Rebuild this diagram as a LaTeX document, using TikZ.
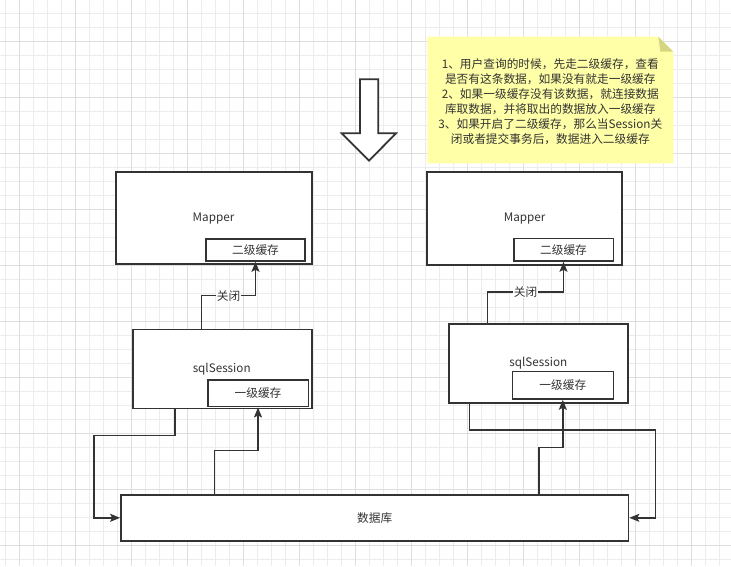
\documentclass[tikz,border=0pt]{standalone}
\usepackage{fontspec}
\setmainfont{Noto Sans CJK SC}
\usepackage{tikz}
\usetikzlibrary{arrows.meta, positioning, calc}
\definecolor{inkgray}{RGB}{51, 51, 51}
\definecolor{gridminor}{RGB}{236, 236, 236}
\definecolor{gridmajor}{RGB}{222, 222, 222}
\definecolor{noteyellow}{RGB}{255, 255, 168}
\definecolor{notefold}{RGB}{214, 214, 130}

\begin{document}
\begin{tikzpicture}[x=1pt, y=-1pt,
  every node/.style={font=\fontsize{11.7}{15}\selectfont, text=inkgray},
  box/.style={draw=inkgray, line width=1.8pt, fill=white, inner sep=0pt},
  cachebox/.style={box, line width=1.6pt},
  flow/.style={draw=inkgray, line width=1.4pt, -{Stealth[length=10pt, width=8pt, inset=2pt]}},
  lbl/.style={fill=white, inner sep=1pt}]
\useasboundingbox (0,0) rectangle (731,566);
% background grid
\foreach \x in {5,19,...,731} \draw[gridminor, line width=0.8pt] (\x,0) -- (\x,566);
\foreach \y in {13,27,...,566} \draw[gridminor, line width=0.8pt] (0,\y) -- (731,\y);
\foreach \x in {19,75,...,731} \draw[gridmajor, line width=0.8pt] (\x,0) -- (\x,566);
\foreach \y in {41,97,...,566} \draw[gridmajor, line width=0.8pt] (0,\y) -- (731,\y);

% note
\fill[noteyellow] (427.3,36.7) -- (658.3,36.7) -- (673.3,51.7) -- (673.3,163.3) -- (427.3,163.3) -- cycle;
\fill[notefold] (658.3,36.7) -- (660.3,51.7) -- (673.3,51.7) -- cycle;
\node[align=center] (notetext) at (550.3,101.3) {1、用户查询的时候，先走二级缓存，查看\\是否有这条数据，如果没有就走一级缓存\\2、如果一级缓存没有该数据，就连接数据\\库取数据，并将取出的数据放入一级缓存\\3、如果开启了二级缓存，那么当Session关\\闭或者提交事务后，数据进入二级缓存};

% big down arrow
\draw[draw=inkgray, line width=1.8pt, fill=white, line join=miter]
  (360,79.3) -- (378.3,79.3) -- (378.3,133.3) -- (396,133.3) -- (369,160.7)
  -- (341.7,133.3) -- (360,133.3) -- cycle;

% left column
\node[box, minimum width=196pt, minimum height=92pt] (mapL) at (213.7,218.3) {};
\node at (213.5,218.3) {Mapper};
\node[cachebox, minimum width=99pt, minimum height=22pt] (cacheL2) at (255.5,250) {二级缓存};
\node[box, minimum width=179pt, minimum height=79pt] (sessL) at (222.2,368.9) {};
\node at (221.7,369) {sqlSession};
\node[cachebox, minimum width=100.6pt, minimum height=26.7pt] (cacheL1) at (258,393.3) {一级缓存};

% right column
\node[box, minimum width=195.6pt, minimum height=92.7pt] (mapR) at (524.5,218.6) {};
\node at (524.7,218.3) {Mapper};
\node[cachebox, minimum width=99.6pt, minimum height=22.3pt] (cacheR2) at (563.5,249.8) {二级缓存};
\node[box, minimum width=179.3pt, minimum height=79.6pt] (sessR) at (538.7,363.5) {};
\node at (538.3,362.7) {sqlSession};
\node[cachebox, minimum width=101pt, minimum height=27.3pt] (cacheR1) at (562.8,385.3) {一级缓存};

% database
\node[box, minimum width=507.4pt, minimum height=46.3pt] (db) at (374.7,517.8) {数据库};

% connectors
\draw[flow] (201.7,0 |- sessL.north) |- node[lbl, pos=0.75] {关闭} (0,295.7 -| cacheL2.south) -- (cacheL2.south);
\draw[flow] (487.7,0 |- sessR.north) |- node[lbl, pos=0.75] {关闭} (0,292 -| cacheR2.south) -- (cacheR2.south);
\draw[flow] (174.9,0 |- sessL.south) -- (174.9,435.7) -| (93.8,0 |- db.west) -- (db.west);
\draw[flow] (214.7,0 |- db.north) |- (0,450.7 -| cacheL1.south) -- (cacheL1.south);
\draw[flow] (469.6,0 |- sessR.south) -- (469.6,430) -| (655.2,0 |- db.east) -- (db.east);
\draw[flow] (538.9,0 |- db.north) |- (0,447.3 -| cacheR1.south) -- (cacheR1.south);
\end{tikzpicture}
\end{document}
